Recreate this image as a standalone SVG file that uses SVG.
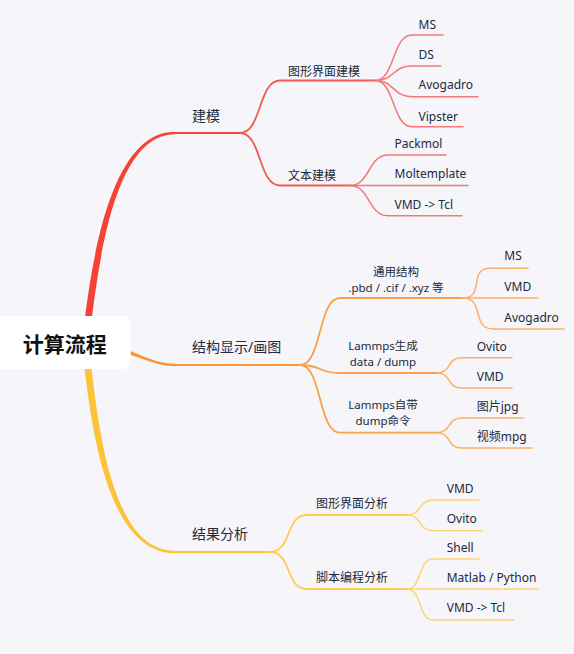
<svg xmlns="http://www.w3.org/2000/svg" width="574" height="654" viewBox="0 0 574 654">
<style>
.t{font-family:"Noto Sans","Noto Sans CJK SC",sans-serif;font-size:12px;fill:#232a3a}
.m{font-size:14px}
.c{text-anchor:middle}
.s{font-size:11.5px}
.ln{fill:none;stroke-linecap:round}
.r1{stroke:#f34a3f;stroke-width:2}
.r2{stroke:#f25b53;stroke-width:1.8}
.r3{stroke:#f37a74;stroke-width:1.5}
.o1{stroke:#fa9538;stroke-width:2}
.o2{stroke:#fb9f48;stroke-width:1.8}
.o3{stroke:#fcb168;stroke-width:1.5}
.y1{stroke:#fdc43a;stroke-width:2}
.y2{stroke:#fdca4c;stroke-width:1.8}
.y3{stroke:#fdd470;stroke-width:1.5}
</style>
<rect x="0" y="0" width="574" height="654" fill="#f5f5fa"/>
<g id="connectors">
  <path d="M82,343 C92,250 113,131.8 175,131.8 L175,134.2 C117,134.2 99,250 89,343 Z" fill="#f44336"/>
  <path class="ln r1" d="M174,133 L240,133"/>
  <path d="M82,343 C92,450 113,553.2 175,553.2 L175,550.8 C117,550.8 99,450 89,343 Z" fill="#fdc338"/>
  <path class="ln y1" d="M174,552 L270,552"/>
  <path d="M120,352 C145,358 155,366.2 176,366.2 L176,363.8 C157,363.8 147,357 122,348 Z" fill="#fa9236"/>
  <path class="ln o1" d="M175,365 L300,365"/>
  <path class="ln r2" d="M240,133 C262,133 258,80.5 280,80.5 L375,80.5"/>
  <path class="ln r2" d="M240,133 C262,133 258,185.5 280,185.5 L350,185.5"/>
  <path class="ln r3" d="M375,80.5 C395,80.5 392,35 412,35 L443,35"/>
  <path class="ln r3" d="M375,80.5 C395,80.5 392,66 412,66 L441,66"/>
  <path class="ln r3" d="M375,80.5 C395,80.5 392,96.7 412,96.7 L478,96.7"/>
  <path class="ln r3" d="M375,80.5 C395,80.5 392,126.7 412,126.7 L463,126.7"/>
  <path class="ln r3" d="M350,185.5 C370,185.5 368,155 388,155 L446,155"/>
  <path class="ln r3" d="M350,185.5 L468,185.5"/>
  <path class="ln r3" d="M350,185.5 C370,185.5 368,215.7 388,215.7 L462,215.7"/>
  <path class="ln o2" d="M300,365 C322,365 318,298 340,298 L463,298"/>
  <path class="ln o2" d="M300,365 C322,365 318,373 340,373 L437,373"/>
  <path class="ln o2" d="M300,365 C322,365 318,432.7 340,432.7 L437,432.7"/>
  <path class="ln o3" d="M463,298 C485,298 468,268.3 490,268.3 L528,268.3"/>
  <path class="ln o3" d="M463,298 L538,298"/>
  <path class="ln o3" d="M463,298 C485,298 471,329 493,329 L564,329"/>
  <path class="ln o3" d="M437,373 C452,373 446,357.7 462,357.7 L512,357.7"/>
  <path class="ln o3" d="M437,373 C452,373 446,388 462,388 L512,388"/>
  <path class="ln o3" d="M437,432.7 C452,432.7 446,418 462,418 L523,418"/>
  <path class="ln o3" d="M437,432.7 C452,432.7 446,448 462,448 L532,448"/>
  <path class="ln y2" d="M270,552 C292,552 285,515 307,515 L407,515"/>
  <path class="ln y2" d="M270,552 C292,552 285,589 307,589 L407,589"/>
  <path class="ln y3" d="M407,515 C422,515 418,500 433,500 L479,500"/>
  <path class="ln y3" d="M407,515 C422,515 418,530.7 433,530.7 L482,530.7"/>
  <path class="ln y3" d="M407,589 C422,589 418,559 433,559 L479,559"/>
  <path class="ln y3" d="M407,589 L538,589"/>
  <path class="ln y3" d="M407,589 C422,589 418,620 433,620 L514,620"/>
</g>
<g id="root">
  <rect x="-8" y="316" width="138.7" height="53" rx="7" fill="#ffffff"/>
  <text class="t c" x="64.7" y="352" style="font-size:21px;font-weight:bold;fill:#111">计算流程</text>
</g>
<g id="n-jianmo"><text class="t m" x="192" y="121">建模</text></g>
<g id="n-jiegou"><text class="t m" x="192" y="352">结构显示/画图</text></g>
<g id="n-jieguo"><text class="t m" x="192" y="539">结果分析</text></g>
<g id="n-txjm"><text class="t" x="288" y="75.5">图形界面建模</text></g>
<g id="n-wbjm"><text class="t" x="288" y="180">文本建模</text></g>
<g id="n-ms1"><text class="t" x="418.5" y="29.3">MS</text></g>
<g id="n-ds"><text class="t" x="418.5" y="59.3">DS</text></g>
<g id="n-avo1"><text class="t" x="418.5" y="89.3">Avogadro</text></g>
<g id="n-vip"><text class="t" x="418.5" y="120.7">Vipster</text></g>
<g id="n-pack"><text class="t" x="394.5" y="148.3">Packmol</text></g>
<g id="n-molt"><text class="t" x="394.5" y="178.3">Moltemplate</text></g>
<g id="n-vmdtcl1"><text class="t" x="394.5" y="209">VMD -&gt; Tcl</text></g>
<g id="n-tyjg"><text class="t s c" x="396" y="275.5">通用结构</text><text class="t s c" x="396" y="291.5">.pbd / .cif / .xyz 等</text></g>
<g id="n-lmsc"><text class="t s c" x="383" y="350">Lammps生成</text><text class="t s c" x="383" y="366">data / dump</text></g>
<g id="n-lmzd"><text class="t s c" x="383" y="409">Lammps自带</text><text class="t s c" x="383" y="425">dump命令</text></g>
<g id="n-ms2"><text class="t" x="504.3" y="260">MS</text></g>
<g id="n-vmd2"><text class="t" x="504.3" y="291">VMD</text></g>
<g id="n-avo2"><text class="t" x="504.3" y="321.7">Avogadro</text></g>
<g id="n-ovito1"><text class="t" x="476.7" y="350.7">Ovito</text></g>
<g id="n-vmd3"><text class="t" x="476.7" y="380.7">VMD</text></g>
<g id="n-jpg"><text class="t" x="476.7" y="410.5">图片jpg</text></g>
<g id="n-mpg"><text class="t" x="476.7" y="441">视频mpg</text></g>
<g id="n-txfx"><text class="t" x="316" y="508.3">图形界面分析</text></g>
<g id="n-jbfx"><text class="t" x="316" y="581.7">脚本编程分析</text></g>
<g id="n-vmd4"><text class="t" x="446.7" y="492.7">VMD</text></g>
<g id="n-ovito2"><text class="t" x="446.7" y="523.3">Ovito</text></g>
<g id="n-shell"><text class="t" x="446.7" y="552.3">Shell</text></g>
<g id="n-matlab"><text class="t" x="446.7" y="582.3">Matlab / Python</text></g>
<g id="n-vmdtcl2"><text class="t" x="446.7" y="612.3">VMD -&gt; Tcl</text></g>
</svg>
